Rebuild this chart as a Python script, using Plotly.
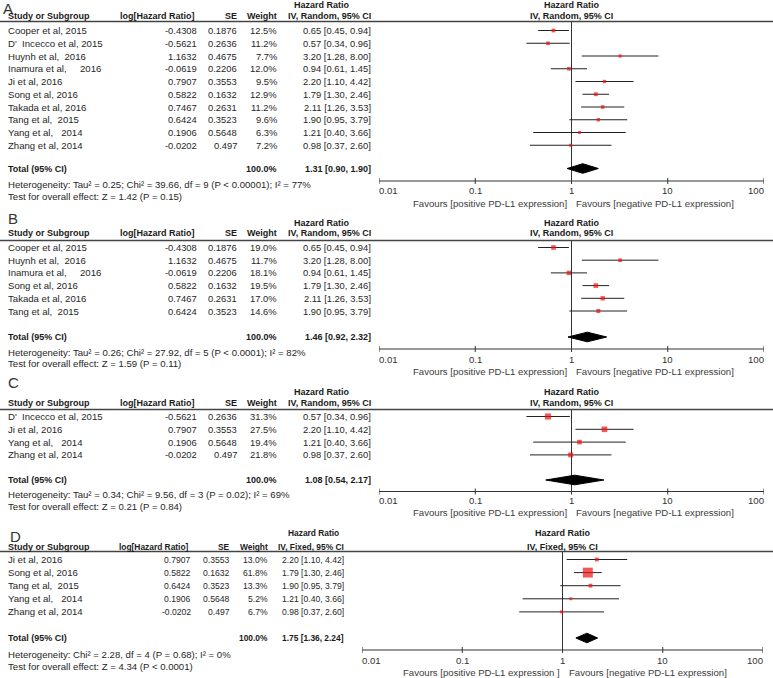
import math
import plotly.graph_objects as go

W, H = 773, 678
NB = "\u00a0"

# ---------------- data ----------------
A_study = ["Cooper et al, 2015", "D'" + NB + " Incecco et al, 2015", "Huynh et al," + NB + " 2016",
           "Inamura et al," + NB * 4 + " 2016", "Ji et al, 2016", "Song et al, 2016", "Takada et al, 2016",
           "Tang et al," + NB + " 2015", "Yang et al," + NB * 2 + " 2014", "Zhang et al, 2014"]
A_loghr = [-0.4308, -0.5621, 1.1632, -0.0619, 0.7907, 0.5822, 0.7467, 0.6424, 0.1906, -0.0202]
A_se = [0.1876, 0.2636, 0.4675, 0.2206, 0.3553, 0.1632, 0.2631, 0.3523, 0.5648, 0.497]
A_weight = [12.5, 11.2, 7.7, 12.0, 9.5, 12.9, 11.2, 9.6, 6.3, 7.2]
A_hr = [0.65, 0.57, 3.20, 0.94, 2.20, 1.79, 2.11, 1.90, 1.21, 0.98]
A_lo = [0.45, 0.34, 1.28, 0.61, 1.10, 1.30, 1.26, 0.95, 0.40, 0.37]
A_hi = [0.94, 0.96, 8.00, 1.45, 4.42, 2.46, 3.53, 3.79, 3.66, 2.60]
A_total = [1.31, 0.90, 1.90]
A_het = "Heterogeneity: Tau² = 0.25; Chi² = 39.66, df = 9 (P &lt; 0.00001); I² = 77%"
A_test = "Test for overall effect: Z = 1.42 (P = 0.15)"

B_study = ["Cooper et al, 2015", "Huynh et al," + NB + " 2016", "Inamura et al," + NB * 4 + " 2016",
           "Song et al, 2016", "Takada et al, 2016", "Tang et al," + NB + " 2015"]
B_loghr = [-0.4308, 1.1632, -0.0619, 0.5822, 0.7467, 0.6424]
B_se = [0.1876, 0.4675, 0.2206, 0.1632, 0.2631, 0.3523]
B_weight = [19.0, 11.7, 18.1, 19.5, 17.0, 14.6]
B_hr = [0.65, 3.20, 0.94, 1.79, 2.11, 1.90]
B_lo = [0.45, 1.28, 0.61, 1.30, 1.26, 0.95]
B_hi = [0.94, 8.00, 1.45, 2.46, 3.53, 3.79]
B_total = [1.46, 0.92, 2.32]
B_het = "Heterogeneity: Tau² = 0.26; Chi² = 27.92, df = 5 (P &lt; 0.0001); I² = 82%"
B_test = "Test for overall effect: Z = 1.59 (P = 0.11)"

C_study = ["D'" + NB + " Incecco et al, 2015", "Ji et al, 2016", "Yang et al," + NB * 2 + " 2014", "Zhang et al, 2014"]
C_loghr = [-0.5621, 0.7907, 0.1906, -0.0202]
C_se = [0.2636, 0.3553, 0.5648, 0.497]
C_weight = [31.3, 27.5, 19.4, 21.8]
C_hr = [0.57, 2.20, 1.21, 0.98]
C_lo = [0.34, 1.10, 0.40, 0.37]
C_hi = [0.96, 4.42, 3.66, 2.60]
C_total = [1.08, 0.54, 2.17]
C_het = "Heterogeneity: Tau² = 0.34; Chi² = 9.56, df = 3 (P = 0.02); I² = 69%"
C_test = "Test for overall effect: Z = 0.21 (P = 0.84)"

D_study = ["Ji et al, 2016", "Song et al, 2016", "Tang et al," + NB + " 2015", "Yang et al," + NB * 2 + " 2014", "Zhang et al, 2014"]
D_loghr = [0.7907, 0.5822, 0.6424, 0.1906, -0.0202]
D_se = [0.3553, 0.1632, 0.3523, 0.5648, 0.497]
D_weight = [13.0, 61.8, 13.3, 5.2, 6.7]
D_hr = [2.20, 1.79, 1.90, 1.21, 0.98]
D_lo = [1.10, 1.30, 0.95, 0.40, 0.37]
D_hi = [4.42, 2.46, 3.79, 3.66, 2.60]
D_total = [1.75, 1.36, 2.24]
D_het = "Heterogeneity: Chi² = 2.28, df = 4 (P = 0.68); I² = 0%"
D_test = "Test for overall effect: Z = 4.34 (P &lt; 0.0001)"

TICK_VALS = [0.01, 0.1, 1, 10, 100]
TICK_TEXT = ["0.01", "0.1", "1", "10", "100"]

FAV_LEFT = "Favours [positive PD-L1 expression]"
FAV_LEFT_D = "Favours [positive PD-L1 expression ]"
FAV_RIGHT = "Favours [negative PD-L1 expression]"

# ---------------- layout spec (pixel positions) ----------------
panels = [
    dict(letter="A", study=A_study, loghr=A_loghr, se=A_se, w=A_weight, hr=A_hr, lo=A_lo, hi=A_hi,
         total=A_total, het=A_het, test=A_test, method="IV, Random, 95% CI", fav_l=FAV_LEFT,
         lx=3, y_letter=8, y_h1=5, y_h2=16, y_line=21.5, y_row0=30.5, dy=12.75, y_total=168.5,
         y_het=184, y_test=196, y_axis=181, y_tick=190.5, y_fav=203, nfs=9.4,
         px0=379, px1=764, c_lhr=197, c_se=237, c_w=277, c_ci=371, c_hr=322, fl=567, fr=576),
    dict(letter="B", study=B_study, loghr=B_loghr, se=B_se, w=B_weight, hr=B_hr, lo=B_lo, hi=B_hi,
         total=B_total, het=B_het, test=B_test, method="IV, Random, 95% CI", fav_l=FAV_LEFT,
         lx=8, y_letter=218, y_h1=223, y_h2=233, y_line=240.5, y_row0=247.5, dy=12.7, y_total=337,
         y_het=352, y_test=363, y_axis=349, y_tick=359, y_fav=371, nfs=9.4,
         px0=379, px1=764, c_lhr=197, c_se=237, c_w=277, c_ci=371, c_hr=322, fl=567, fr=576),
    dict(letter="C", study=C_study, loghr=C_loghr, se=C_se, w=C_weight, hr=C_hr, lo=C_lo, hi=C_hi,
         total=C_total, het=C_het, test=C_test, method="IV, Random, 95% CI", fav_l=FAV_LEFT,
         lx=8, y_letter=382, y_h1=392, y_h2=403, y_line=409.5, y_row0=416.5, dy=12.8, y_total=480,
         y_het=494, y_test=506.5, y_axis=491.5, y_tick=500.5, y_fav=512.5, nfs=9.4,
         px0=379, px1=764, c_lhr=197, c_se=237, c_w=277, c_ci=371, c_hr=322, fl=567, fr=576),
    dict(letter="D", study=D_study, loghr=D_loghr, se=D_se, w=D_weight, hr=D_hr, lo=D_lo, hi=D_hi,
         total=D_total, het=D_het, test=D_test, method="IV, Fixed, 95% CI", fav_l=FAV_LEFT_D,
         lx=10, y_letter=536, y_h1=533, y_h2=547, y_line=551.5, y_row0=559.5, dy=13.1, y_total=638,
         y_het=654, y_test=666.5, y_axis=650, y_tick=660, y_fav=672.5, nfs=8.6,
         px0=362, px1=763, c_lhr=191, c_se=230, c_w=268, c_ci=344, c_hr=313, fl=560, fr=569),
]

FONT = "Liberation Sans, Arial, sans-serif"
TXT = "#262626"
BOLD = "#1a1a1a"
FS = 9.6
FSB = 9.0

fig = go.Figure()
ann = []
shapes = []


def px(x):
    return x / W


def text(x, y, s, anchor="left", bold=False, size=None, color=None, xref="paper"):
    ann.append(dict(x=x, y=y, xref=xref, yref="y", text=("<b>%s</b>" % s) if bold else s,
                    showarrow=False, xanchor=anchor, yanchor="middle", borderpad=0, borderwidth=0,
                    font=dict(family=FONT, size=size or (FSB if bold else FS),
                              color=color or (BOLD if bold else TXT))))


for k, p in enumerate(panels):
    xa = "x" if k == 0 else "x%d" % (k + 1)
    xkey = "xaxis" if k == 0 else "xaxis%d" % (k + 1)
    fig.layout[xkey] = dict(type="log", range=[-2, 2], domain=[px(p["px0"]), px(p["px1"])],
                            anchor="y", visible=False, showgrid=False, zeroline=False, fixedrange=True)
    n = len(p["study"])
    rows = [p["y_row0"] + i * p["dy"] for i in range(n)]
    nfs = p["nfs"]
    bfs = FSB if k < 3 else 8.4

    # header rule
    shapes.append(dict(type="line", xref="paper", yref="y", x0=0, x1=1, y0=p["y_line"], y1=p["y_line"],
                       line=dict(color="#444444", width=1.5)))

    # line of no effect
    fig.add_trace(go.Scatter(x=[1, 1], y=[p["y_line"], p["y_axis"]], mode="lines", xaxis=xa, yaxis="y",
                             line=dict(color="#333333", width=1), hoverinfo="skip"))
    # CI whiskers
    xs, ys = [], []
    for lo, hi, r in zip(p["lo"], p["hi"], rows):
        xs += [lo, hi, None]
        ys += [r, r, None]
    fig.add_trace(go.Scatter(x=xs, y=ys, mode="lines", xaxis=xa, yaxis="y",
                             line=dict(color="#222222", width=1), hoverinfo="skip"))
    # point estimates
    fig.add_trace(go.Scatter(x=p["hr"], y=rows, mode="markers", xaxis=xa, yaxis="y",
                             marker=dict(symbol="square", color="#ee1111",
                                         size=[2.2 + 0.125 * w for w in p["w"]], line=dict(width=0))))
    # pooled diamond
    est, tlo, thi = p["total"]
    yt = p["y_total"]
    fig.add_trace(go.Scatter(x=[tlo, est, thi, est, tlo], y=[yt, yt - 4.8, yt, yt + 4.8, yt],
                             mode="lines", fill="toself", fillcolor="#000000", xaxis=xa, yaxis="y",
                             line=dict(color="#000000", width=1), hoverinfo="skip"))
    # axis with crossing ticks
    ay = p["y_axis"]
    axx = [TICK_VALS[0], TICK_VALS[-1], None]
    axy = [ay, ay, None]
    for t in TICK_VALS:
        axx += [t, t, None]
        axy += [ay - 3, ay + 3, None]
    fig.add_trace(go.Scatter(x=axx, y=axy, mode="lines", xaxis=xa, yaxis="y",
                             line=dict(color="#333333", width=1), hoverinfo="skip"))
    for i, (t, lab) in enumerate(zip(TICK_VALS, TICK_TEXT)):
        anc = "left" if i == 0 else ("right" if i == len(TICK_VALS) - 1 else "center")
        text(math.log10(t), p["y_tick"], lab, anchor=anc, xref=xa, color="#333333")

    # favours
    text(px(p["fl"]), p["y_fav"], p["fav_l"], anchor="right", color="#3c3c3c")
    text(px(p["fr"]), p["y_fav"], FAV_RIGHT, anchor="left", color="#3c3c3c")

    # letter
    text(px(p["lx"]), p["y_letter"], p["letter"], size=15, color="#333333")

    # table headers
    text(px(p["c_hr"]), p["y_h1"], "Hazard Ratio", anchor="center", bold=True, size=bfs)
    text(px(8), p["y_h2"], "Study or Subgroup", bold=True)
    text(px(p["c_lhr"] - 2), p["y_h2"], "log[Hazard Ratio]", anchor="right", bold=True, size=bfs)
    text(px(p["c_se"]), p["y_h2"], "SE", anchor="right", bold=True, size=bfs)
    text(px(p["c_w"]), p["y_h2"], "Weight", anchor="right", bold=True, size=bfs)
    text(px(p["c_ci"]), p["y_h2"], p["method"], anchor="right", bold=True, size=bfs)
    xc1 = (p["px0"] + p["px1"]) / 2
    text(px(xc1), p["y_h1"], "Hazard Ratio", anchor="center", bold=True)
    text(px(xc1), p["y_h2"], p["method"], anchor="center", bold=True)

    # study rows
    for i in range(n):
        r = rows[i]
        text(px(8), r, p["study"][i])
        text(px(p["c_lhr"]), r, str(p["loghr"][i]), anchor="right", size=nfs)
        text(px(p["c_se"]), r, str(p["se"][i]), anchor="right", size=nfs)
        text(px(p["c_w"]), r, "%.1f%%" % p["w"][i], anchor="right", size=nfs)
        text(px(p["c_ci"]), r, "%.2f [%.2f, %.2f]" % (p["hr"][i], p["lo"][i], p["hi"][i]),
             anchor="right", size=nfs)

    # totals
    text(px(8), yt, "Total (95% CI)", bold=True)
    text(px(p["c_w"]), yt, "100.0%", anchor="right", bold=True, size=bfs)
    text(px(p["c_ci"]), yt, "%.2f [%.2f, %.2f]" % (est, tlo, thi), anchor="right", bold=True, size=bfs)
    text(px(8), p["y_het"], p["het"])
    text(px(8), p["y_test"], p["test"])

fig.update_layout(
    width=W, height=H, margin=dict(l=0, r=0, t=0, b=0), template="none",
    paper_bgcolor="white", plot_bgcolor="rgba(0,0,0,0)", showlegend=False,
    yaxis=dict(range=[H, 0], domain=[0, 1], visible=False, fixedrange=True, anchor="x"),
    annotations=ann, shapes=shapes, hovermode=False,
)
fig.write_html("out.html", config={"displayModeBar": False},
               post_script="document.body.style.margin='0';document.body.style.overflow='hidden';")
